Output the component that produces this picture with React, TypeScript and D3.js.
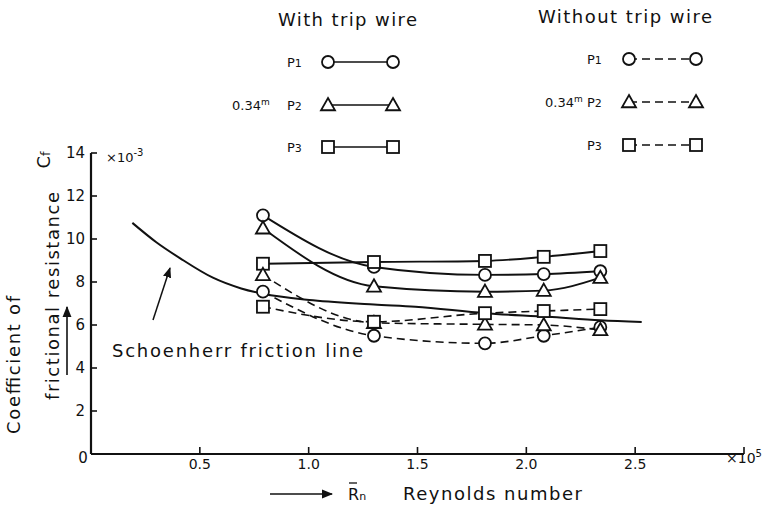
import React from "react";
import * as d3 from "d3";

// ---- data ----
const reynolds = [0.79, 1.3, 1.81, 2.08, 2.34]; // x10^5
const withP1 = [11.1, 8.7, 8.33, 8.37, 8.5];
const withP2 = [10.5, 7.8, 7.55, 7.6, 8.2];
const withP3 = [8.85, 8.93, 8.98, 9.17, 9.44];
const withoutP1 = [7.55, 5.5, 5.15, 5.5, 5.9];
const withoutP2 = [8.33, 6.1, 6.03, 6.0, 5.77];
const withoutP3 = [6.85, 6.15, 6.55, 6.65, 6.74];
const schoenX = [0.19, 0.3, 0.41, 0.56, 0.69, 0.79, 1.02, 1.3, 1.49, 1.81, 2.1, 2.34, 2.53];
const schoenY = [10.75, 9.85, 9.1, 8.2, 7.7, 7.45, 7.15, 6.95, 6.85, 6.55, 6.38, 6.22, 6.14];
const xTicks = [0.5, 1.0, 1.5, 2.0, 2.5, 3.0];
const xTickLabels = ["0.5", "1.0", "1.5", "2.0", "2.5", ""];
const yTicks = [2, 4, 6, 8, 10, 12, 14];
const legendNames = ["P1", "P2", "P3"];
const legendShapes = ["circle", "triangle", "square"];

const series = [
  { values: withP1, shape: "circle", dashed: false },
  { values: withP2, shape: "triangle", dashed: false },
  { values: withP3, shape: "square", dashed: false },
  { values: withoutP1, shape: "circle", dashed: true },
  { values: withoutP2, shape: "triangle", dashed: true },
  { values: withoutP3, shape: "square", dashed: true },
];

const FONT = "DejaVu Sans, sans-serif";

function Marker({ shape, x, y }: { shape: string; x: number; y: number }) {
  const common = { fill: "#fff", stroke: "#111", strokeWidth: 1.8 };
  if (shape === "circle") return <circle cx={x} cy={y} r={6} {...common} />;
  if (shape === "square") return <rect x={x - 6} y={y - 6} width={12} height={12} {...common} />;
  const s = 7;
  return (
    <path
      d={`M${x},${y - s} L${x + s},${y + s * 0.75} L${x - s},${y + s * 0.75} Z`}
      {...common}
      strokeLinejoin="miter"
    />
  );
}

export default function App() {
  const W = 770, H = 509;
  const x = d3.scaleLinear().domain([0, 3]).range([91, 744]);
  const y = d3.scaleLinear().domain([0, 14]).range([454, 153]);
  const line = d3
    .line<number>()
    .x((_, i) => x(reynolds[i]))
    .y((d) => y(d))
    .curve(d3.curveMonotoneX);
  const schoen = d3
    .line<number>()
    .x((_, i) => x(schoenX[i]))
    .y((d) => y(d))
    .curve(d3.curveMonotoneX);

  const leftRows = [62, 105, 147];
  const rightRows = [59, 102, 145];

  return (
    <svg
      width={W}
      height={H}
      style={{ position: "absolute", left: 0, top: 0, background: "#fff" }}
      fontFamily={FONT}
    >
      <rect width={W} height={H} fill="#fff" />
      <defs>
        <marker id="ah" viewBox="0 0 10 10" refX="9" refY="5" markerWidth="7" markerHeight="7" orient="auto">
          <path d="M0,1 L10,5 L0,9 Z" fill="#111" />
        </marker>
      </defs>

      {/* axes */}
      <line x1={x(0)} y1={y(0)} x2={x(3)} y2={y(0)} stroke="#111" strokeWidth={2.2} />
      <line x1={x(0)} y1={y(0)} x2={x(0)} y2={y(14)} stroke="#111" strokeWidth={2.2} />
      {xTicks.map((t, i) => (
        <g key={"xt" + i}>
          <line x1={x(t)} x2={x(t)} y1={y(0)} y2={y(0) - 7} stroke="#111" strokeWidth={1.6} />
          <text x={x(t)} y={469} fontSize={14} textAnchor="middle" fill="#111">
            {xTickLabels[i]}
          </text>
        </g>
      ))}
      <text x={83} y={463} fontSize={15} textAnchor="middle" fill="#111">0</text>
      <text x={726} y={463} fontSize={14} fill="#111">
        ×10<tspan dy={-6} fontSize={10}>5</tspan>
      </text>
      {yTicks.map((t) => (
        <g key={"yt" + t}>
          <line x1={x(0)} x2={x(0) + 6} y1={y(t)} y2={y(t)} stroke="#111" strokeWidth={1.6} />
          <text x={85} y={y(t) + 5} fontSize={15} textAnchor="end" fill="#111">
            {t}
          </text>
        </g>
      ))}
      <text x={106} y={162} fontSize={13} fill="#111">
        ×10<tspan dy={-6} fontSize={10}>-3</tspan>
      </text>

      {/* y label */}
      <text transform="translate(20,365) rotate(-90)" fontSize={18} textAnchor="middle" fill="#111" textLength={138} lengthAdjust="spacing">
        Coefficient of
      </text>
      <text transform="translate(59,296) rotate(-90)" fontSize={18} textAnchor="middle" fill="#111" textLength={208} lengthAdjust="spacing">
        frictional resistance
      </text>
      <text transform="translate(50,160) rotate(-90)" fontSize={18} textAnchor="middle" fill="#111">
        C<tspan fontSize={13}>f</tspan>
      </text>
      <line x1={67} y1={375} x2={67} y2={307} stroke="#111" strokeWidth={1.6} markerEnd="url(#ah)" />

      {/* x label */}
      <line x1={270} y1={494} x2={332} y2={494} stroke="#111" strokeWidth={1.6} markerEnd="url(#ah)" />
      <text x={348} y={500} fontSize={16} fill="#111">
        R<tspan fontSize={11}>n</tspan>
      </text>
      <line x1={349} x2={357} y1={483} y2={483} stroke="#111" strokeWidth={1.3} />
      <text x={403} y={500} fontSize={18} fill="#111" textLength={179} lengthAdjust="spacing">
        Reynolds number
      </text>

      {/* Schoenherr line */}
      <path d={schoen(schoenY) || ""} fill="none" stroke="#111" strokeWidth={2} />
      <line x1={153} y1={320} x2={170} y2={268} stroke="#111" strokeWidth={1.5} markerEnd="url(#ah)" />
      <text x={112} y={357} fontSize={18} fill="#111" textLength={251} lengthAdjust="spacing">
        Schoenherr friction line
      </text>

      {/* series */}
      {series.map((s, si) => (
        <path
          key={"l" + si}
          d={line(s.values) || ""}
          fill="none"
          stroke="#111"
          strokeWidth={s.dashed ? 1.6 : 1.9}
          strokeDasharray={s.dashed ? "8,5" : undefined}
        />
      ))}
      {series.map((s, si) =>
        s.values.map((v, i) => (
          <Marker key={`m${si}-${i}`} shape={s.shape} x={x(reynolds[i])} y={y(v)} />
        ))
      )}

      {/* legend: with trip wire */}
      <text x={278} y={26} fontSize={18} fill="#111" textLength={139} lengthAdjust="spacing">
        With trip wire
      </text>
      {legendNames.map((n, i) => (
        <g key={"lw" + i}>
          <text x={287} y={leftRows[i] + 5} fontSize={13} fill="#111">
            {n[0]}<tspan fontSize={11}>{n.slice(1)}</tspan>
          </text>
          <line x1={328} x2={393} y1={leftRows[i]} y2={leftRows[i]} stroke="#111" strokeWidth={1.6} />
          <Marker shape={legendShapes[i]} x={328} y={leftRows[i]} />
          <Marker shape={legendShapes[i]} x={393} y={leftRows[i]} />
        </g>
      ))}
      <text x={232} y={110} fontSize={13} fill="#111">
        0.34<tspan dy={-5} fontSize={9}>m</tspan>
      </text>

      {/* legend: without trip wire */}
      <text x={538} y={23} fontSize={18} fill="#111" textLength={174} lengthAdjust="spacing">
        Without trip wire
      </text>
      {legendNames.map((n, i) => (
        <g key={"lo" + i}>
          <text x={587} y={rightRows[i] + 5} fontSize={13} fill="#111">
            {n[0]}<tspan fontSize={11}>{n.slice(1)}</tspan>
          </text>
          <line x1={629} x2={696} y1={rightRows[i]} y2={rightRows[i]} stroke="#111" strokeWidth={1.6} strokeDasharray="8,5" />
          <Marker shape={legendShapes[i]} x={629} y={rightRows[i]} />
          <Marker shape={legendShapes[i]} x={696} y={rightRows[i]} />
        </g>
      ))}
      <text x={545} y={107} fontSize={13} fill="#111">
        0.34<tspan dy={-5} fontSize={9}>m</tspan>
      </text>
    </svg>
  );
}
